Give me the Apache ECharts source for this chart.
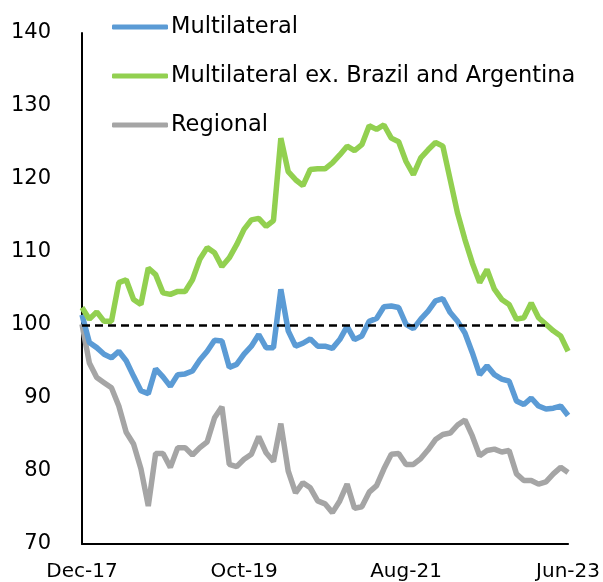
<!DOCTYPE html>
<html>
<head>
<meta charset="utf-8">
<script src="https://cdn.jsdelivr.net/npm/echarts@6/dist/echarts.min.js"></script>
<style>
  html, body { margin: 0; padding: 0; background: #fff; }
  #chart { width: 603px; height: 582px; }
</style>
</head>
<body>
<div id="chart"></div>
<script>
// monthly, Dec-17 .. Jun-23
const monthNames = ['Jan', 'Feb', 'Mar', 'Apr', 'May', 'Jun', 'Jul', 'Aug', 'Sep', 'Oct', 'Nov', 'Dec'];
const months = [];
for (let k = 0; k < 67; k++) {
  const m = (11 + k) % 12;
  const y = 17 + Math.floor((11 + k) / 12);
  months.push(monthNames[m] + '-' + y);
}

const multilateral = [
  101.4, 97.6, 96.9, 96.0, 95.5, 96.4, 95.1, 93.0, 91.0, 90.6,
  94.0, 92.9, 91.6, 93.2, 93.3, 93.7, 95.2, 96.4, 97.9, 97.8,
  94.2, 94.6, 96.0, 97.1, 98.7, 96.9, 96.9, 104.9, 99.2, 97.1,
  97.5, 98.1, 97.1, 97.1, 96.8, 98.0, 99.8, 98.0, 98.5, 100.5,
  100.9, 102.5, 102.6, 102.4, 100.1, 99.5, 100.8, 101.9, 103.3, 103.6,
  101.7, 100.5, 98.9, 96.2, 93.2, 94.4, 93.2, 92.6, 92.3, 89.6,
  89.1, 90.0, 88.9, 88.5, 88.6, 88.9, 87.6
];

const multilateralExBrAr = [
  102.4, 100.8, 101.8, 100.5, 100.5, 105.8, 106.2, 103.5, 102.8, 107.8,
  106.9, 104.4, 104.2, 104.6, 104.6, 106.2, 109.0, 110.6, 109.9, 108.0,
  109.2, 111.0, 113.1, 114.4, 114.6, 113.5, 114.3, 125.6, 121.0, 119.9,
  119.1, 121.3, 121.4, 121.4, 122.2, 123.3, 124.5, 123.9, 124.7, 127.3,
  126.8, 127.4, 125.6, 125.1, 122.4, 120.6, 122.9, 124.0, 125.0, 124.5,
  119.9, 115.3, 111.7, 108.5, 105.8, 107.6, 104.9, 103.5, 102.8, 100.8,
  101.0, 103.0, 101.0, 100.1, 99.2, 98.5, 96.4
];

const regional = [
  100.1, 94.8, 92.8, 92.1, 91.4, 88.9, 85.3, 83.7, 80.3, 75.2,
  82.4, 82.4, 80.5, 83.2, 83.2, 82.2, 83.2, 84.0, 87.3, 88.8,
  80.9, 80.6, 81.6, 82.3, 84.7, 82.5, 81.3, 86.5, 80.0, 77.0,
  78.4, 77.7, 75.9, 75.5, 74.3, 75.9, 78.2, 74.9, 75.1, 77.1,
  78.0, 80.3, 82.3, 82.4, 80.9, 80.9, 81.7, 82.9, 84.3, 85.0,
  85.2, 86.3, 87.0, 84.8, 82.1, 82.8, 83.0, 82.6, 82.8, 79.6,
  78.7, 78.7, 78.2, 78.5, 79.6, 80.5, 79.8
];

const baseline = 100;
const baselineEnd = 'Mar-23';

const font = 'DejaVu Sans';

const chart = echarts.init(document.getElementById('chart'));

chart.setOption({
  animation: false,
  textStyle: { fontFamily: font },
  grid: {
    left: 82,
    right: 30,
    top: 33,
    bottom: 37,
    containLabel: false
  },
  legend: {
    orient: 'vertical',
    left: 107,
    top: 10,
    icon: 'roundRect',
    itemWidth: 56,
    itemHeight: 5,
    itemGap: 25,
    textStyle: { color: '#000', fontSize: 22.5, lineHeight: 24, padding: [0, 0, 0, -2] },
    data: ['Multilateral', 'Multilateral ex. Brazil and Argentina', 'Regional']
  },
  xAxis: {
    type: 'category',
    boundaryGap: false,
    data: months,
    axisLine: { lineStyle: { color: '#000', width: 2 } },
    axisTick: { show: false },
    axisLabel: {
      interval: 21,
      color: '#000',
      fontSize: 20,
      margin: 18
    }
  },
  yAxis: {
    type: 'value',
    min: 70,
    max: 140,
    interval: 10,
    axisLine: { show: true, lineStyle: { color: '#000', width: 2 } },
    axisTick: { show: false },
    splitLine: { show: false },
    axisLabel: { color: '#000', fontSize: 21, margin: 31 }
  },
  series: [
    {
      name: 'Regional',
      type: 'line',
      data: regional,
      symbol: 'none',
      z: 2,
      lineStyle: { color: '#A5A5A5', width: 5.5 },
      itemStyle: { color: '#A5A5A5' }
    },
    {
      name: 'Multilateral',
      type: 'line',
      data: multilateral,
      symbol: 'none',
      z: 3,
      lineStyle: { color: '#5B9BD5', width: 5.5 },
      itemStyle: { color: '#5B9BD5' },
      markLine: {
        silent: true,
        symbol: 'none',
        label: { show: false },
        lineStyle: { color: '#000', width: 2.5, type: [8, 5] },
        data: [[
          { coord: [months[0], baseline] },
          { coord: [baselineEnd, baseline] }
        ]]
      }
    },
    {
      name: 'Multilateral ex. Brazil and Argentina',
      type: 'line',
      data: multilateralExBrAr,
      symbol: 'none',
      z: 4,
      lineStyle: { color: '#92D050', width: 5.5 },
      itemStyle: { color: '#92D050' }
    }
  ]
});
</script>
</body>
</html>
